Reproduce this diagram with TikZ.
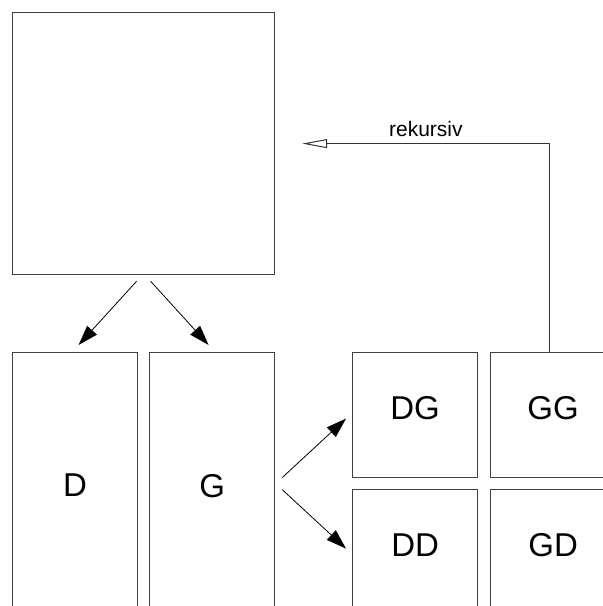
\documentclass[tikz,border=0pt]{standalone}
\usepackage{fontspec}
\setmainfont{Liberation Sans}
\usetikzlibrary{arrows.meta}
\begin{document}
\begin{tikzpicture}[x=1pt, y=-1pt,
  box/.style={draw=black!75, line width=1.2pt, inner sep=0pt, anchor=north west,
    minimum width=125pt, minimum height=125pt,
    font=\fontsize{33}{40}\selectfont, text depth=14pt},
  arr/.style={draw=black, line width=0.8pt, -{Triangle[length=20pt, width=13pt]}},
  backarr/.style={draw=black!80, line width=1pt, -{Triangle[open, length=25pt, width=9pt]}},
  tag/.style={font=\fontsize{21}{25}\selectfont, inner sep=0pt}
]
\useasboundingbox (0,0) rectangle (603,606);
\clip (0,0) rectangle (603,606);

% whole matrix
\node[box, minimum width=262pt, minimum height=262pt] (top) at (12,12) {};

% first split
\node[box, minimum height=280pt] (D) at (12,352) {D};
\node[box, minimum height=280pt] (G) at (149,352) {G};

% second split of G
\node[box] (DG) at (352,352) {DG};
\node[box] (GG) at (490,352) {GG};
\node[box] (DD) at (352,489) {DD};
\node[box] (GD) at (490,489) {GD};

% splitting arrows
\draw[arr] ([xshift=-7pt, yshift=-6pt]top.south) -- ([xshift=3.5pt, yshift=7pt]D.north);
\draw[arr] ([xshift=7pt, yshift=-6pt]top.south) -- ([xshift=-3.5pt, yshift=7pt]G.north);
\draw[arr] ([xshift=7pt, yshift=15pt]G.east) -- ([xshift=-6pt, yshift=-3.5pt]DG.west);
\draw[arr] ([xshift=7pt, yshift=3pt]G.east) -- ([xshift=-6pt, yshift=3.5pt]DD.west);

% recursion back to the top
\coordinate (back) at ([xshift=27pt]top.east);
\draw[backarr] ([xshift=-3.5pt]GG.north) |- node[tag, pos=0.75, above=6pt] (rek) {rekursiv} (back);
\end{tikzpicture}
\end{document}
